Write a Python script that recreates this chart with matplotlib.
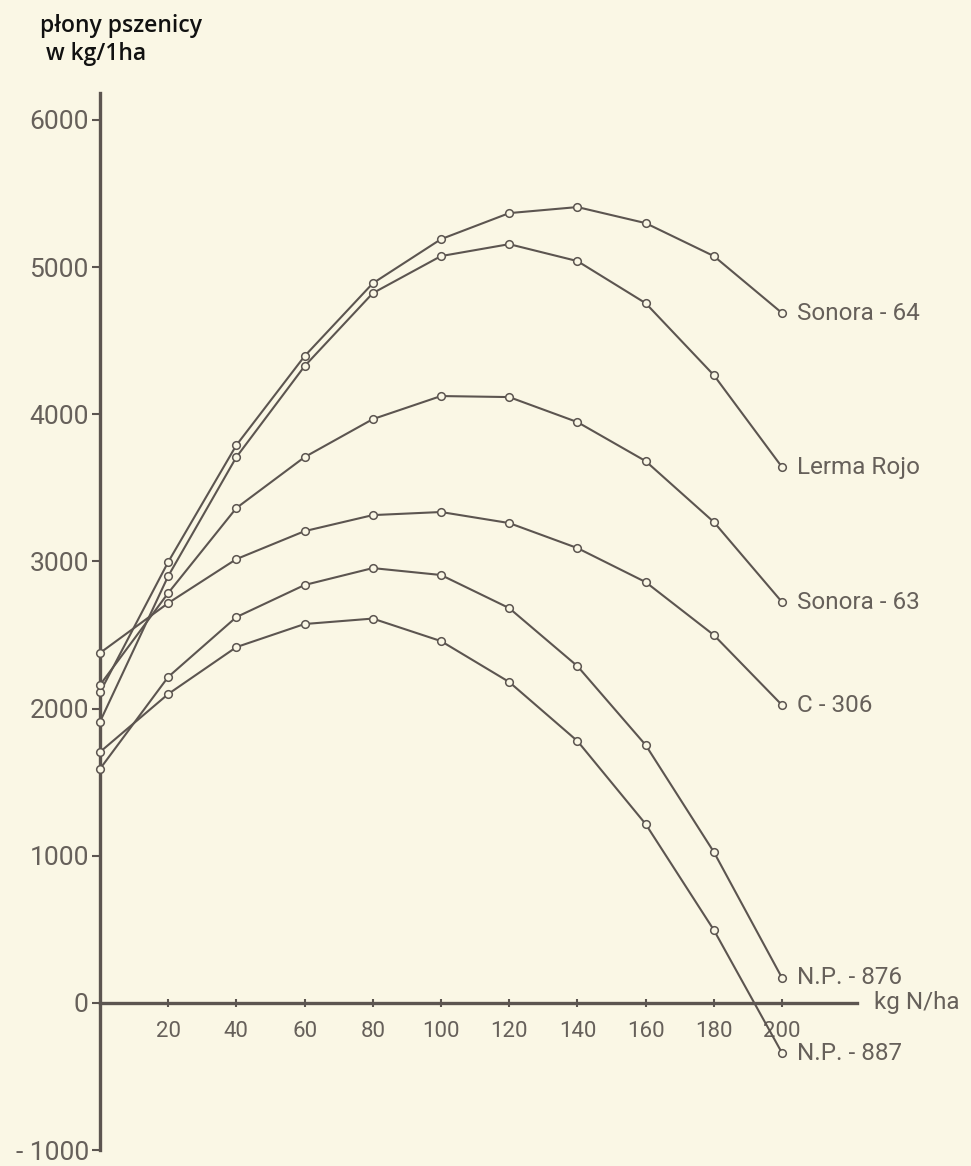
import matplotlib
matplotlib.use("Agg")
import matplotlib.pyplot as plt

# ---- data ----
nitrogen = [0, 20, 40, 60, 80, 100, 120, 140, 160, 180, 200]
sonora64 = [2110, 2996, 3790, 4395, 4890, 5190, 5367, 5408, 5299, 5075, 4688]
lerma_rojo = [1910, 2900, 3709, 4327, 4823, 5075, 5156, 5041, 4755, 4266, 3641]
sonora63 = [2160, 2785, 3363, 3709, 3967, 4124, 4117, 3947, 3682, 3268, 2724]
c306 = [2378, 2717, 3016, 3206, 3315, 3336, 3261, 3091, 2860, 2500, 2024]
np876 = [1590, 2215, 2622, 2840, 2955, 2908, 2683, 2289, 1753, 1026, 170]
np887 = [1705, 2099, 2418, 2575, 2612, 2459, 2181, 1780, 1216, 496, -340]
series_names = ["Sonora - 64", "Lerma Rojo", "Sonora - 63", "C - 306", "N.P. - 876", "N.P. - 887"]
series_values = [sonora64, lerma_rojo, sonora63, c306, np876, np887]
y_ticks = [-1000, 0, 1000, 2000, 3000, 4000, 5000, 6000]
x_ticks = [20, 40, 60, 80, 100, 120, 140, 160, 180, 200]

bg = "#FAF7E5"
ink = "#5C5550"
txt = "#66605A"

fig = plt.figure(figsize=(9.71, 11.66), dpi=100, facecolor=bg)
ax = fig.add_axes([0, 0, 1, 1], facecolor=bg)
ax.set_xlim(-29.3, 255.4)
ax.set_ylim(-1107.6, 6815)

for name, vals in zip(series_names, series_values):
    ax.plot(nitrogen, vals, color=ink, lw=1.5, marker="o", ms=5.5,
            mfc=bg, mec=ink, mew=1.1, zorder=3)
    ax.text(nitrogen[-1] + 4.5, vals[-1], name, fontsize=17.5, color=txt,
            family=["Roboto", "DejaVu Sans"], va="center", ha="left")

for s in ["top", "right"]:
    ax.spines[s].set_visible(False)
ax.spines["left"].set_position(("data", 0))
ax.spines["bottom"].set_position(("data", 0))
ax.spines["left"].set_bounds(-1000, 6180)
ax.spines["bottom"].set_bounds(0, 222)
ax.spines["left"].set_linewidth(2.4)
ax.spines["bottom"].set_linewidth(2.4)
ax.spines["left"].set_color(ink)
ax.spines["bottom"].set_color(ink)

ax.set_yticks(y_ticks)
ax.set_yticklabels([str(v) if v >= 0 else "- " + str(-v) for v in y_ticks])
ax.set_xticks(x_ticks)
ax.set_xticklabels([str(v) for v in x_ticks])
ax.tick_params(axis="y", direction="out", length=6, width=1.5, color=ink,
               labelsize=19, labelcolor=txt, pad=2)
ax.tick_params(axis="x", direction="inout", length=6, width=1.5, color=ink,
               labelsize=16, labelcolor=txt, pad=10)
for lab in ax.get_xticklabels() + ax.get_yticklabels():
    lab.set_family(["Roboto", "DejaVu Sans"])

ax.text(227, 0, "kg N/ha", fontsize=17.5, color=txt, family=["Roboto", "DejaVu Sans"],
        va="center", ha="left")
fig.text(0.041, 0.988, "płony pszenicy\n w kg/1ha", fontsize=16.5, color="#111111",
         weight="semibold", family=["Open Sans", "DejaVu Sans"], va="top", ha="left",
         linespacing=1.2)

fig.savefig("out.png", dpi=100, facecolor=bg)
